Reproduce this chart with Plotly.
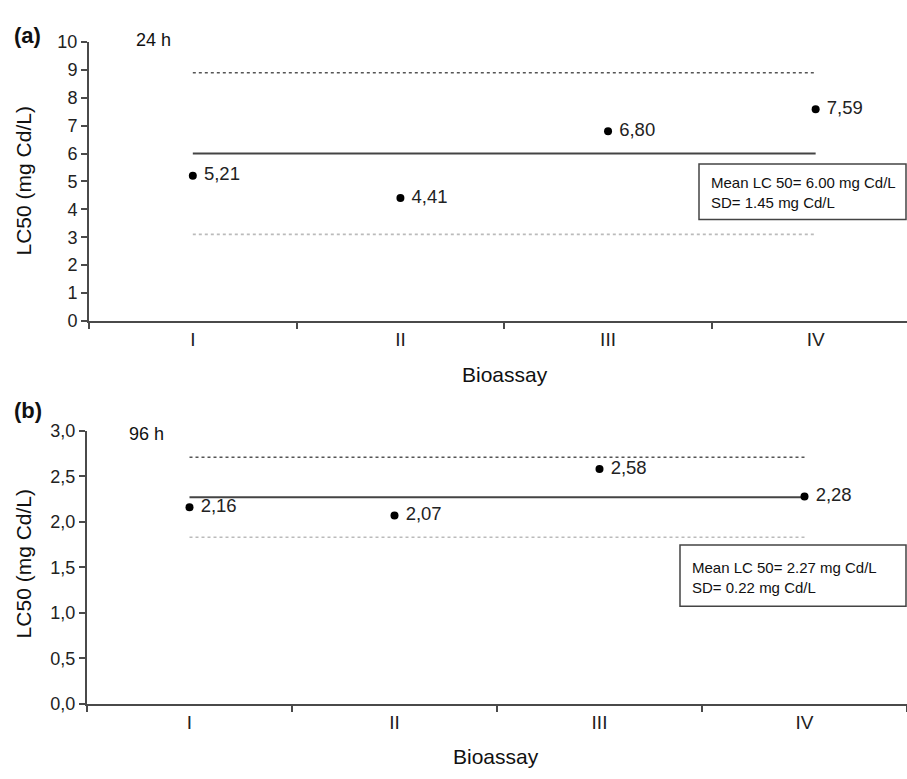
import plotly.graph_objects as go

W, H = 907, 779

categories = ["I", "II", "III", "IV"]
lc50_24h = [5.21, 4.41, 6.80, 7.59]
lc50_96h = [2.16, 2.07, 2.58, 2.28]
mean_24h, sd_24h = 6.00, 1.45
mean_96h, sd_96h = 2.27, 0.22
yticks_24h = [0, 1, 2, 3, 4, 5, 6, 7, 8, 9, 10]
yticks_96h = [0.0, 0.5, 1.0, 1.5, 2.0, 2.5, 3.0]

FONT = "Liberation Sans, Arial, sans-serif"
AX = "#4a4a4a"


def px(x):
    return x / W


def py(y):
    return 1 - y / H


fig = go.Figure()


def add_panel(vals, mean, sd, xa, ya):
    ends = [categories[0], categories[-1]]
    fig.add_trace(go.Scatter(x=ends, y=[mean + 2 * sd] * 2, mode="lines",
                             line=dict(color="#555555", width=1.6, dash="dot"),
                             xaxis=xa, yaxis=ya, showlegend=False, hoverinfo="skip"))
    fig.add_trace(go.Scatter(x=ends, y=[mean - 2 * sd] * 2, mode="lines",
                             line=dict(color="#bbbbbb", width=1.6, dash="dot"),
                             xaxis=xa, yaxis=ya, showlegend=False, hoverinfo="skip"))
    fig.add_trace(go.Scatter(x=ends, y=[mean] * 2, mode="lines",
                             line=dict(color="#444444", width=2),
                             xaxis=xa, yaxis=ya, showlegend=False, hoverinfo="skip"))
    fig.add_trace(go.Scatter(x=categories, y=vals, mode="markers+text",
                             marker=dict(color="black", size=8),
                             text=[" " + f"{v:.2f}".replace(".", ",") for v in vals],
                             textposition="middle right",
                             textfont=dict(family=FONT, size=18.5, color="#222222"),
                             xaxis=xa, yaxis=ya, showlegend=False))


add_panel(lc50_24h, mean_24h, sd_24h, "x", "y")
add_panel(lc50_96h, mean_96h, sd_96h, "x2", "y2")

common_x = dict(type="category", categoryorder="array", categoryarray=categories,
                tickson="boundaries", ticks="outside", ticklen=6, tickcolor=AX,
                tickwidth=1.5, showline=True, linecolor=AX, linewidth=2,
                showgrid=False, zeroline=False,
                tickfont=dict(family=FONT, size=19, color="#222222"))
common_y = dict(ticks="outside", ticklen=6, tickcolor=AX, tickwidth=1.5,
                showline=True, linecolor=AX, linewidth=2, showgrid=False,
                zeroline=False, tickfont=dict(family=FONT, size=18, color="#222222"))

fig.update_layout(
    width=W, height=H,
    margin=dict(l=0, r=0, t=0, b=0),
    paper_bgcolor="white", plot_bgcolor="white",
    separators=",.",
    xaxis=dict(common_x, domain=[px(89), 1], range=[-0.5, 3.44], anchor="y"),
    yaxis=dict(common_y, domain=[py(319), py(33)], range=[0, 10],
               tickvals=yticks_24h, tickformat="d", anchor="x"),
    xaxis2=dict(common_x, domain=[px(87), 1], range=[-0.5, 3.5], anchor="y2"),
    yaxis2=dict(common_y, domain=[py(712), py(432)], range=[0, 3],
                tickvals=yticks_96h, tickformat=".1f", anchor="x2"),
)

shapes = [
    dict(type="rect", xref="paper", yref="paper", x0=px(699), x1=px(906),
         y0=py(215), y1=py(158), line=dict(color="#444444", width=1.5)),
    dict(type="rect", xref="paper", yref="paper", x0=px(680), x1=px(906),
         y0=py(612), y1=py(549), line=dict(color="#444444", width=1.5)),
]
fig.update_layout(shapes=shapes)

ann = []


def note(text, x, y, size, bold=False, xanchor="center", angle=0):
    ann.append(dict(text=f"<b>{text}</b>" if bold else text, x=px(x), y=py(y),
                    xref="paper", yref="paper", showarrow=False, xanchor=xanchor,
                    yanchor="middle", textangle=angle, align="left",
                    font=dict(family=FONT, size=size, color="#111111")))


note("(a)", 27, 26, 22, bold=True)
note("(b)", 28, 411, 22, bold=True)
note("24 h", 153, 31, 18)
note("96 h", 146, 435, 18)
note("LC50 (mg Cd/L)", 23, 176, 21, angle=-90)
note("LC50 (mg Cd/L)", 23, 569, 21, angle=-90)
note("Bioassay", 505, 374, 21)
note("Bioassay", 496, 766, 21)
note(f"Mean LC 50= {mean_24h:.2f} mg Cd/L<br>SD= {sd_24h:.2f} mg Cd/L", 709, 187, 15,
     xanchor="left")
note(f"Mean LC 50= {mean_96h:.2f} mg Cd/L<br>SD= {sd_96h:.2f} mg Cd/L", 690, 582, 15,
     xanchor="left")
fig.update_layout(annotations=ann)

fig.write_html("out.html", config={"displayModeBar": False},
               post_script="document.body.style.margin='0';")
